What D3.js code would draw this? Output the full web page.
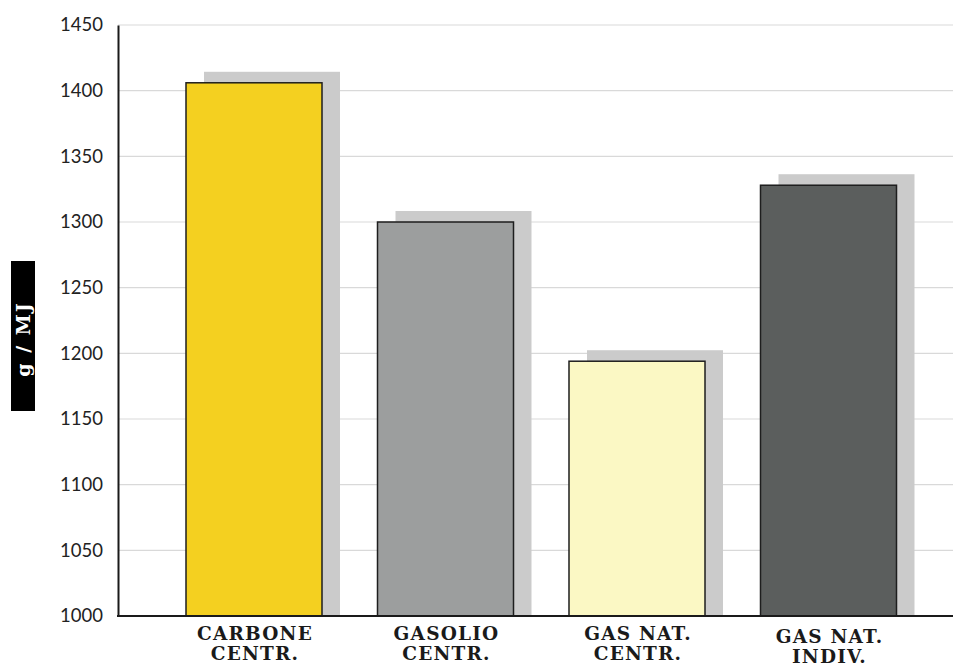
<!DOCTYPE html>
<html>
<head>
<meta charset="utf-8">
<script src="https://d3js.org/d3.v7.min.js"></script>
<style>
  html, body { margin: 0; padding: 0; background: #ffffff; }
  svg { display: block; }
</style>
</head>
<body>
<svg id="chart" width="953" height="669"></svg>
<script>
// Emissions per fuel/heating system, g/MJ
const categories = [
  ["CARBONE", "CENTR."],
  ["GASOLIO", "CENTR."],
  ["GAS NAT.", "CENTR."],
  ["GAS NAT.", "INDIV."]
];
const values = [1406, 1300, 1194, 1328];
const barColors = ["#f4d020", "#9c9e9e", "#fbf8c4", "#5b5e5d"];
const yTicks = [1000, 1050, 1100, 1150, 1200, 1250, 1300, 1350, 1400, 1450];
const yTitle = "g / MJ";

const svg = d3.select("#chart");
const W = 953, H = 669;
const left = 118, baseY = 616, topY = 25;

const keys = categories.map((c, i) => i);
const x = d3.scalePoint().domain(keys).range([254, 828.5]);
const barW = 136;
const y = d3.scaleLinear().domain([1000, 1450]).range([baseY, topY]);

// horizontal grid lines
svg.append("g")
  .selectAll("line")
  .data(yTicks.filter(t => t > 1000))
  .join("line")
  .attr("x1", left).attr("x2", W)
  .attr("y1", d => y(d)).attr("y2", d => y(d))
  .attr("stroke", "#d9d9d9").attr("stroke-width", 1.2);

// drop shadows behind the bars
const shadowDx = 18, shadowDy = 11;
svg.append("g")
  .selectAll("rect")
  .data(values)
  .join("rect")
  .attr("x", (d, i) => x(i) - barW / 2 + shadowDx)
  .attr("y", d => y(d) - shadowDy)
  .attr("width", barW)
  .attr("height", d => baseY - y(d) + shadowDy)
  .attr("fill", "#cbcbcb");

// bars
svg.append("g")
  .selectAll("rect")
  .data(values)
  .join("rect")
  .attr("x", (d, i) => x(i) - barW / 2)
  .attr("y", d => y(d))
  .attr("width", barW)
  .attr("height", d => baseY - y(d))
  .attr("fill", (d, i) => barColors[i])
  .attr("stroke", "#1e1e1e").attr("stroke-width", 1.5);

// y axis
const yAxis = d3.axisLeft(y).tickValues(yTicks).tickSize(0).tickPadding(15).tickFormat(d3.format("d"));
const gy = svg.append("g").attr("transform", `translate(${left},0)`).call(yAxis);
gy.select(".domain").attr("stroke", "#1a1a1a").attr("stroke-width", 2);
gy.selectAll("text")
  .attr("font-family", "Lato, 'Open Sans', sans-serif")
  .attr("font-size", 18.5)
  .attr("fill", "#222");

// baseline
svg.append("line")
  .attr("x1", left - 1).attr("x2", W)
  .attr("y1", baseY).attr("y2", baseY)
  .attr("stroke", "#1a1a1a").attr("stroke-width", 2.2);

// category labels (the last one sits a little lower)
const lab = svg.append("g")
  .selectAll("text")
  .data(categories)
  .join("text")
  .attr("text-anchor", "middle")
  .attr("font-family", "'DejaVu Serif', serif")
  .attr("font-weight", "bold")
  .attr("font-size", 18.5)
  .attr("letter-spacing", 1.2)
  .attr("fill", "#1a1a1a");
lab.each(function(c, i) {
  const t = d3.select(this);
  const dy = i === 3 ? 3 : 0;
  c.forEach((line, j) => {
    t.append("tspan").attr("x", x(i) + 1).attr("y", 640 + dy + j * 20).text(line);
  });
});

// y axis title box
svg.append("rect")
  .attr("x", 11).attr("y", 261).attr("width", 24).attr("height", 150)
  .attr("fill", "#000");
svg.append("text")
  .attr("transform", "translate(30,339) rotate(-90)")
  .attr("text-anchor", "middle")
  .attr("font-family", "'DejaVu Serif', serif")
  .attr("font-weight", "bold")
  .attr("font-size", 19)
  .attr("letter-spacing", 2)
  .attr("fill", "#fff")
  .text(yTitle);
</script>
</body>
</html>
